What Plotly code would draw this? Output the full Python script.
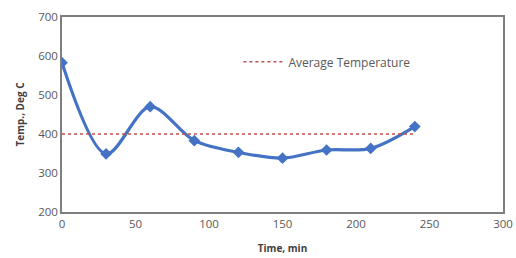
import plotly.graph_objects as go

time_min = [0, 30, 60, 90, 120, 150, 180, 210, 240]
temp_c = [583, 349, 470, 383, 353, 338, 359, 363, 419]
avg_x = [0, 240]
avg_temp = [400, 400]

fig = go.Figure()
fig.add_trace(go.Scatter(
    x=time_min, y=temp_c, mode="lines+markers",
    line=dict(color="#4472C4", width=3.2, shape="spline", smoothing=0.9),
    marker=dict(symbol="diamond", size=9, color="#4472C4"),
    name="Temperature", showlegend=False))
fig.add_trace(go.Scatter(
    x=avg_x, y=avg_temp, mode="lines",
    line=dict(color="#C0504D", width=1.5, dash="dot"),
    name="Average Temperature"))

axis_common = dict(showgrid=False, zeroline=False, showline=True, linecolor="#7f7f7f",
                   linewidth=1.5, mirror=True, ticks="", automargin=False,
                   tickfont=dict(family="Open Sans", size=11.5, color="#595959"))
fig.update_layout(
    width=516, height=258,
    margin=dict(l=62, r=13, t=17, b=46),
    paper_bgcolor="white", plot_bgcolor="white",
    xaxis=dict(range=[0, 300], dtick=50,
               title=dict(text="<b>Time, min</b>", standoff=15,
                          font=dict(family="Open Sans", size=10, color="#404040")),
               **axis_common),
    yaxis=dict(range=[200, 700], dtick=100,
               title=dict(text="<b>Temp., Deg C</b>", standoff=12,
                          font=dict(family="Open Sans", size=10, color="#404040")),
               **axis_common),
    legend=dict(x=0.40, y=0.77, xanchor="left", yanchor="middle",
                bgcolor="rgba(0,0,0,0)", itemwidth=40,
                font=dict(family="Open Sans", size=12, color="#595959")),
    showlegend=True,
)
fig.write_html("out.html", config={"displayModeBar": False},
               post_script="document.body.style.margin='0';document.body.style.overflow='hidden';")
